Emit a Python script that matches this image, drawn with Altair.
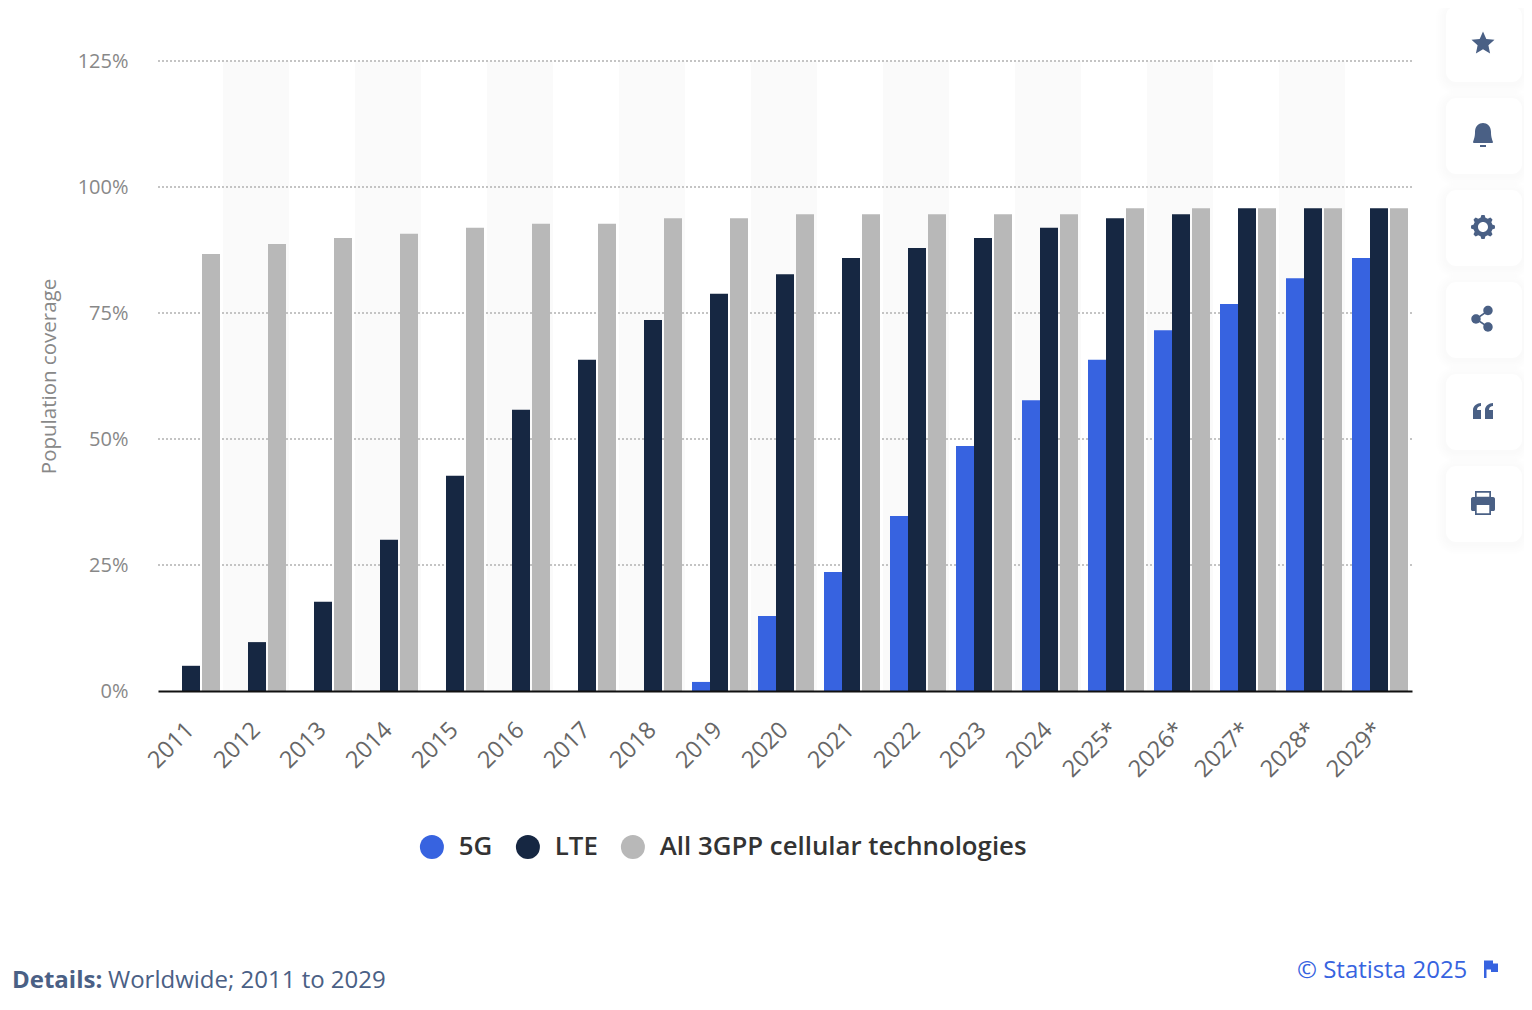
import math
import altair as alt
import pandas as pd

years = ["2011", "2012", "2013", "2014", "2015", "2016", "2017", "2018", "2019", "2020",
         "2021", "2022", "2023", "2024", "2025*", "2026*", "2027*", "2028*", "2029*"]
g5 = [None, None, None, None, None, None, None, None, 1.8, 14.9, 23.6, 34.7, 48.6, 57.7, 65.7, 71.6, 76.8, 81.9, 85.9]
lte = [5, 9.7, 17.7, 30, 42.7, 55.8, 65.7, 73.6, 78.8, 82.7, 85.9, 87.9, 89.9, 91.9, 93.8, 94.6, 95.8, 95.8, 95.8]
all3 = [86.7, 88.7, 89.9, 90.7, 91.9, 92.7, 92.7, 93.8, 93.8, 94.6, 94.6, 94.6, 94.6, 94.6, 95.8, 95.8, 95.8, 95.8, 95.8]
names = ["5G", "LTE", "All 3GPP cellular technologies"]
colors = ["#3763e0", "#162742", "#b8b8b8"]
ticks = [0, 25, 50, 75, 100, 125]

FONT = "Open Sans"
SLATE = "#4a6085"
OX, OY = 158, 61  # page position of the plot origin


def frame(name, values):
    return pd.DataFrame({"year": years, "series": name, "value": values}).dropna()


xscale = alt.Scale(domain=years, paddingInner=0, paddingOuter=0)
yscale = alt.Scale(domain=[0, 125], nice=False)
color = alt.Color("series:N", scale=alt.Scale(domain=names, range=colors),
                  legend=alt.Legend(
                      orient="none", legendX=261, legendY=773, direction="horizontal",
                      columns=3, title=None, padding=0, symbolType="circle", symbolSize=576,
                      symbolStrokeWidth=0, symbolOpacity=1, labelFont=FONT, labelFontSize=25.8,
                      labelFontWeight=600, labelColor="#333333", labelOffset=14,
                      columnPadding=22, labelLimit=500))

bands = alt.Chart(pd.DataFrame({"year": years[1::2], "lo": 0, "hi": 125})).mark_rect(
    color="#fafafa", xOffset=-1, x2Offset=-1).encode(
    x=alt.X("year:N", scale=xscale,
            axis=alt.Axis(title=None, labelAngle=-45, labelAlign="right", labelBaseline="top",
                          labelFont=FONT, labelFontSize=23.5, labelColor="#666666", labelPadding=26.5,
                          labelOffset=-9, tickSize=0, domainColor="#111111", domainWidth=2, grid=False,
                          zindex=2, labelOverlap=False)),
    y=alt.Y("lo:Q", scale=yscale,
            axis=alt.Axis(title="Population coverage", values=ticks, labelExpr="datum.value + '%'",
                          labelFont=FONT, labelFontSize=20, labelColor="#888888", labelPadding=30,
                          tickSize=0, domain=False, grid=False, titleFont=FONT, titleFontSize=20.5,
                          titleFontWeight="normal", titleColor="#888888", titlePadding=18)),
    y2="hi:Q",
)

grid = alt.Chart(pd.DataFrame({"tick": ticks[1:]})).mark_rule(
    color="#c4c4c4", strokeWidth=2, strokeDash=[2, 2]).encode(y=alt.Y("tick:Q", scale=yscale))


def bars(name, values, offset):
    return alt.Chart(frame(name, values)).mark_bar(width=18, xOffset=offset).encode(
        x=alt.X("year:N", scale=xscale), y=alt.Y("value:Q", scale=yscale), color=color)


# --- decoration outside the plot: toolbar, footer ---
def px(v, origin):
    return alt.value(v - origin)


def box(x0, y0, x1, y1, fill, opacity=1.0, radius=10):
    return alt.Chart(pd.DataFrame({"a": [0]})).mark_rect(
        fill=fill, opacity=opacity, cornerRadius=radius).encode(
        x=px(x0, OX), x2=px(x1, OX), y=px(y0, OY), y2=px(y1, OY))


def icon(cx, cy, path, fill=SLATE, stroke=None):
    kw = {"stroke": stroke, "strokeWidth": 1, "strokeJoin": "round"} if stroke else {"strokeWidth": 0}
    return alt.Chart(pd.DataFrame({"a": [0]})).mark_point(
        shape=path, size=4, filled=True, fill=fill, opacity=1, **kw).encode(
        x=px(cx, OX), y=px(cy, OY))


def label(x, y, text, size, col, weight="normal", align="left"):
    return alt.Chart(pd.DataFrame({"t": [text]})).mark_text(
        font=FONT, fontSize=size, color=col, fontWeight=weight, align=align, baseline="alphabetic").encode(
        x=px(x, OX), y=px(y, OY), text="t:N")


def circle(cx, cy, r):
    return f"M{cx - r},{cy} A{r},{r} 0 1,1 {cx + r},{cy} A{r},{r} 0 1,1 {cx - r},{cy} Z "


def gear():
    pts = []
    for i in range(48):
        a = 2 * math.pi * i / 48
        r = 12 if (i % 6) in (0, 1, 5) else 9.6
        pts.append(f"{r * math.sin(a):.2f},{-r * math.cos(a):.2f}")
    return "M" + " L".join(pts) + " Z M5,0 A5,5 0 1,0 -5,0 A5,5 0 1,0 5,0 Z"


STAR = "M0,-11.5 L3.3,-4 L11.5,-3.2 L5.4,2.3 L7.1,10.5 L0,6.3 L-7.1,10.5 L-5.4,2.3 L-11.5,-3.2 L-3.3,-4 Z"
BELL = ("M-10,7 C-10,8 -9,8 -8,8 L8,8 C9,8 10,8 10,7 C9,4 8,2 8,-3 C8,-9 4,-12 0,-12 "
        "C-4,-12 -8,-9 -8,-3 C-8,2 -9,4 -10,7 Z M-3,10 L3,10 L3,12 L-3,12 Z")
SHARE = circle(5, -8.5, 4.7) + circle(-7, 0, 4.7) + circle(5, 8, 4.7)
SHARE_LINES = "M-7,-1 L5,-9.3 L5.8,-7.7 L-6.2,0.5 Z M-6.2,-0.5 L5.8,7.5 L5,9 L-7,1 Z"
QUOTE = ("M-10,-1 C-10,-5 -6,-8 -2,-8 L-2,-5 C-4,-5 -6,-4 -6,-1 L-2,-1 L-2,8 L-10,8 Z "
         "M2,-1 C2,-5 6,-8 10,-8 L10,-5 C8,-5 6,-4 6,-1 L10,-1 L10,8 L2,8 Z")
PRINT_DARK = ("M-10,-6 L10,-6 C11.5,-6 12,-5 12,-4 L12,6 C12,7.5 11.5,8 10,8 L8,8 L8,12 L-8,12 L-8,8 L-10,8 "
              "C-11.5,8 -12,7.5 -12,6 L-12,-4 C-12,-5 -11.5,-6 -10,-6 Z M-8,-12 L8,-12 L8,-6 L-8,-6 Z")
PRINT_WHITE = "M-6.3,-10.3 L6.3,-10.3 L6.3,-6.3 L-6.3,-6.3 Z M-6.3,2 L6.3,2 L6.3,10.3 L-6.3,10.3 Z"
FLAG = "M-7,-8.5 L-4.5,-8.5 L-4.5,9 L-7,9 Z M-4.5,-8.5 L2,-8.5 L2,-5.5 L7,-5.5 L7,3 L0,3 L0,0.5 L-4.5,0.5 Z"

buttons = [6, 98, 190, 282, 374, 466]
shapes = [STAR, BELL, gear(), SHARE, QUOTE, PRINT_DARK]

deco = []
for top in buttons:
    for grow in (10, 8, 6, 4, 2):
        deco.append(box(1446 - grow, top - grow + 2, 1522 + grow, top + 76 + grow + 2, "#8090b0", 0.012, 10 + grow))
    deco.append(box(1446, top, 1522, top + 76, "#ffffff"))
for top, shape in zip(buttons, shapes):
    deco.append(icon(1483, top + 37, shape))
deco.append(icon(1483, 282 + 37, SHARE_LINES))
deco.append(icon(1483, 466 + 37, PRINT_WHITE, fill="#ffffff"))
deco += [
    label(12, 988, "Details:", 24, SLATE, weight="bold"),
    label(108, 988, "Worldwide; 2011 to 2029", 24, SLATE),
    label(1297, 978, "© Statista 2025", 24, "#3763e0"),
    icon(1491, 969, FLAG, fill="#3763e0"),
]

chart = alt.layer(
    bands, grid,
    bars(names[0], g5, -18), bars(names[1], lte, 0), bars(names[2], all3, 20),
    *deco,
).properties(
    width=1254, height=630, background="white",
    padding={"left": 150, "top": 53, "right": 112, "bottom": 305},
    autosize=alt.AutoSizeParams(type="none"),
).configure_view(stroke=None)

chart.save("out.html", embed_options={"renderer": "svg", "actions": False})
